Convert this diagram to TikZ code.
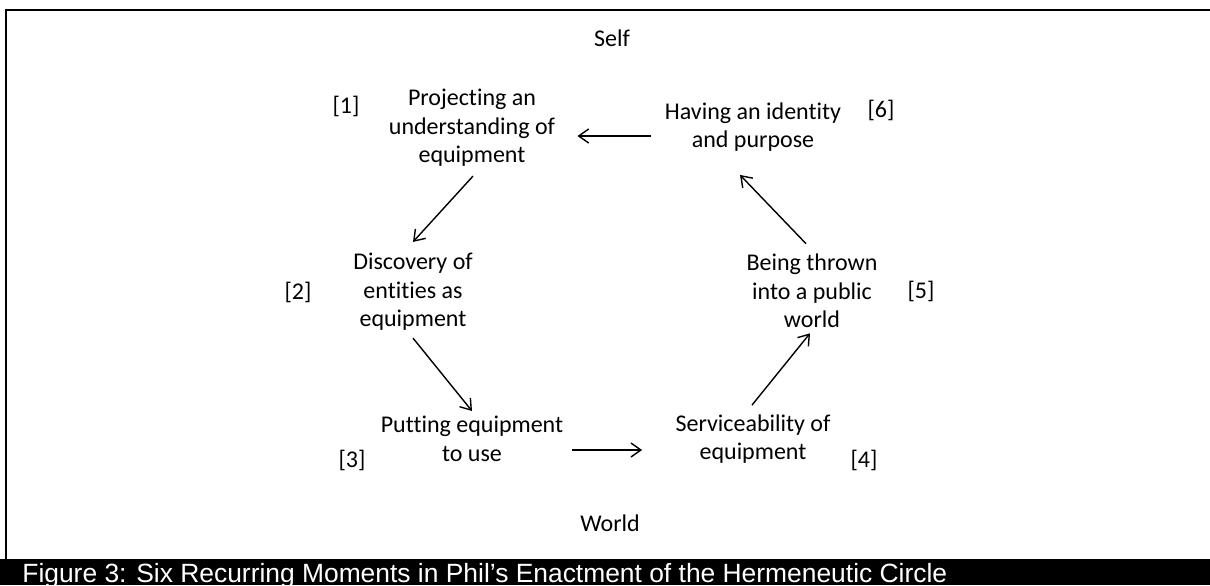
\documentclass[tikz,border=0pt]{standalone}
\usepackage{fontspec}
\setmainfont{Carlito}[Ligatures={NoCommon,NoRare,NoContextual}]
\newfontfamily\capfont{Liberation Sans}
\usetikzlibrary{arrows.meta}
\begin{document}
\begin{tikzpicture}[x=0.5pt,y=-0.5pt,
  txt/.style={align=center,font=\fontsize{12pt}{14.25pt}\selectfont,inner sep=0pt},
  lbl/.style={font=\fontsize{12pt}{14.25pt}\selectfont,inner sep=0pt},
  flow/.style={-{Straight Barb[length=5pt,width=7pt]},line width=0.7pt}]
\useasboundingbox (0,0) rectangle (1210,585);
\fill[black] (0,559) rectangle (1210,585);
\draw[line width=1pt] (6,559) -- (6,10) -- (1210,10);

\node[lbl] (self) at (612,38) {Self};
\node[lbl] (world) at (610,523) {World};

\node[txt] (n1) at (472,128) {Projecting an\\understanding of\\equipment};
\node[txt] (n2) at (413,292) {Discovery of\\entities as\\equipment};
\node[txt] (n3) at (472,439) {Putting equipment\\to use};
\node[txt] (n4) at (753,439) {Serviceability of\\equipment};
\node[txt] (n5) at (812,291) {Being thrown\\into a public\\world};
\node[txt] (n6) at (753,127) {Having an identity\\and purpose};

\node[lbl] (l1) at (346,106) {[1]};
\node[lbl] (l2) at (298,292) {[2]};
\node[lbl] (l3) at (352,460) {[3]};
\node[lbl] (l4) at (864,460) {[4]};
\node[lbl] (l5) at (921,291) {[5]};
\node[lbl] (l6) at (881,110) {[6]};

\draw[flow] ([shift={(1,9)}]n1.south) -- ([shift={(0,-11)}]n2.north);
\draw[flow] ([shift={(0,7)}]n2.south) -- ([shift={(0,-5)}]n3.north);
\draw[flow] ([shift={(8,11)}]n3.east) -- ([shift={(-33,11)}]n4.west);
\draw[flow] ([shift={(-1,-9)}]n4.north) -- ([shift={(-2,5)}]n5.south);
\draw[flow] ([shift={(-6,-10)}]n5.north) -- ([shift={(-13,23)}]n6.south);
\draw[flow] ([shift={(-14,9)}]n6.west) -- ([shift={(22,8)}]n1.east);

\node[anchor=base west,text=white,inner sep=0pt,font=\capfont\fontsize{13.2pt}{15pt}\selectfont] (cap) at (22,582) {Figure 3: Six Recurring Moments in Phil’s Enactment of the Hermeneutic Circle};
\end{tikzpicture}
\end{document}
